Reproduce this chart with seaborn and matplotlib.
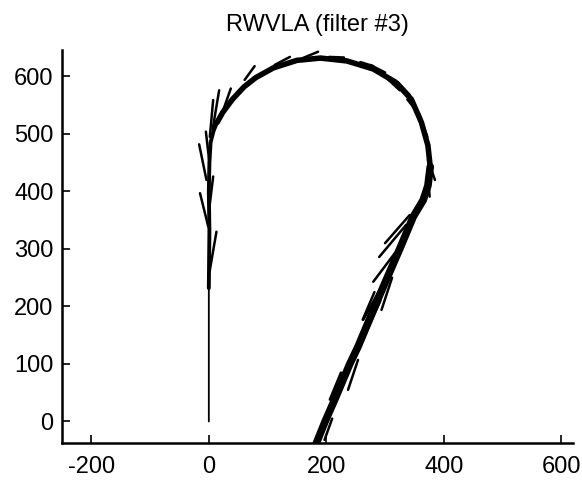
import numpy as np
import pandas as pd
import matplotlib
matplotlib.use("Agg")
import matplotlib.pyplot as plt
import seaborn as sns

# trajectory
path_x = [0, 0, 0, 1, 0, 1, 3, 8, 14, 24, 40, 60, 80, 110, 150, 190, 235, 280, 318, 345, 362, 373, 377, 373, 365, 348, 325, 291, 254, 240, 216, 198, 183]
path_y = [0, 150, 232, 330, 400, 450, 485, 505, 520, 538, 560, 582, 598, 615, 628, 632, 627, 613, 590, 560, 520, 480, 443, 410, 385, 356, 300, 220, 130, 100, 42, 0, -38]

# short heading segments (start x, start y, end x, end y)
seg_x0 = [1.7, -15, 7.4, -16.5, -5, 7.4, 17.6, 37.4, 78, 138, 186, 280, 325, 359, 385, 376, 300, 290, 280, 263, 294, 237, 206, 197, 262,
          230, 300, 342, 372, 340, 312, 250, 222, 270]
seg_y0 = [263, 397, 426, 482, 504, 559, 576, 579, 618, 634, 643, 618, 576, 533, 420, 391, 310, 286, 243, 177, 194, 55, 38, -32, 177,
          633, 607, 568, 495, 342, 280, 118, 58, 160]
seg_x1 = [13, -1, 0.5, -4, 0.5, 1.7, 6.3, 21.6, 61, 112, 160, 258, 305, 338, 373, 373, 342, 336, 325, 297, 312, 254, 225, 210, 282,
          205, 275, 322, 358, 365, 340, 268, 238, 292]
seg_y1 = [330, 339, 368, 420, 455, 495, 507, 533, 594, 620, 632, 625, 595, 560, 455, 426, 359, 342, 304, 240, 250, 107, 85, 5, 225,
          634, 620, 590, 535, 385, 330, 160, 100, 210]

path = pd.DataFrame({"x": path_x, "y": path_y, "i": range(len(path_x))})
segs = pd.DataFrame({
    "x": seg_x0 + seg_x1,
    "y": seg_y0 + seg_y1,
    "seg": list(range(len(seg_x0))) * 2,
})

sns.set_style("ticks")
plt.rcParams["font.family"] = ["Liberation Sans", "DejaVu Sans"]
plt.rcParams["axes.unicode_minus"] = False

fig = plt.figure(figsize=(5.82, 4.87), dpi=100)
ax = fig.add_axes([0.1065, 0.0903, 0.878, 0.807])

sns.lineplot(data=path, x="x", y="y", sort=False, estimator=None, color="black", linewidth=1.3, ax=ax)
sns.lineplot(data=path[path["i"].between(2, 8)], x="x", y="y", sort=False, estimator=None,
             color="black", linewidth=2.8, ax=ax)
sns.lineplot(data=path[path["i"].between(8, 22)], x="x", y="y", sort=False, estimator=None,
             color="black", linewidth=4, ax=ax)
sns.lineplot(data=path[path["i"] >= 22], x="x", y="y", sort=False, estimator=None,
             color="black", linewidth=5.5, ax=ax)
sns.lineplot(data=segs, x="x", y="y", units="seg", estimator=None, sort=False, color="black", linewidth=1.8, ax=ax)

ax.set_xlim(-250, 620)
ax.set_ylim(-37.5, 646)
ax.set_xticks([-200, 0, 200, 400, 600])
ax.set_yticks([0, 100, 200, 300, 400, 500, 600])
ax.set_xlabel("")
ax.set_ylabel("")
ax.tick_params(direction="in", length=6, width=1.2, labelsize=17, colors="black", pad=6)
ax.tick_params(axis="x", pad=9)
sns.despine(ax=ax)
for s in ["left", "bottom"]:
    ax.spines[s].set_linewidth(1.8)
    ax.spines[s].set_color("black")
ax.set_title("RWVLA (filter #3)", fontsize=17, pad=14, color="black")

fig.savefig("out.png", dpi=100)
